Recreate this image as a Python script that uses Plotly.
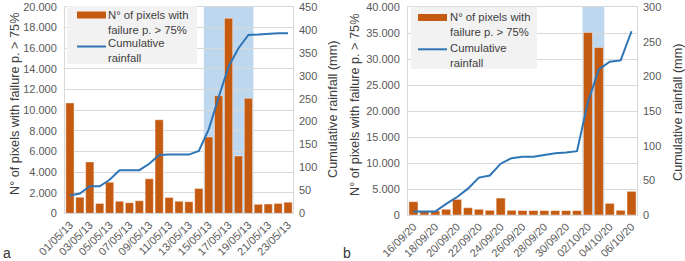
import plotly.graph_objects as go

# ---------------- data ----------------
dates_a = ["01/05/13", "02/05/13", "03/05/13", "04/05/13", "05/05/13", "06/05/13",
           "07/05/13", "08/05/13", "09/05/13", "10/05/13", "11/05/13", "12/05/13",
           "13/05/13", "14/05/13", "15/05/13", "16/05/13", "17/05/13", "18/05/13",
           "19/05/13", "20/05/13", "21/05/13", "22/05/13", "23/05/13"]
pixels_a = [10700, 1550, 4980, 960, 3020, 1160, 1030, 1220, 3340, 9070, 1540, 1170,
            1120, 2410, 7400, 11400, 18900, 5560, 11150, 870, 900, 960, 1080]
rain_a = [39, 43, 59, 59, 73, 94, 94, 94, 108, 127, 128, 128,
          128, 136, 183, 253, 320, 360, 389, 390, 392, 393, 393]
ticks_a = dates_a[::2]

dates_b = ["16/09/20", "17/09/20", "18/09/20", "19/09/20", "20/09/20", "21/09/20",
           "22/09/20", "23/09/20", "24/09/20", "25/09/20", "26/09/20", "27/09/20",
           "28/09/20", "29/09/20", "30/09/20", "01/10/20", "02/10/20", "03/10/20",
           "04/10/20", "05/10/20", "06/10/20"]
pixels_b = [2560, 780, 780, 1100, 3000, 1400, 1100, 900, 3250, 900, 850, 850,
            850, 850, 850, 850, 35100, 32200, 2240, 900, 4550]
rain_b = [5, 5, 5, 16, 26, 38, 54, 57, 74, 82, 84, 84,
          87, 89, 90, 92, 163, 210, 221, 223, 265]
ticks_b = dates_b[::2]

bar_name = "N° of pixels with<br>failure p. > 75%"
line_name = "Cumulative<br>rainfall"

# ---------------- style ----------------
W, H = 685, 261
BAR = "#C55A11"
LINE = "#2E75B6"
SHADE = "#BDD7EE"
GRID = "#D9D9D9"
TICKC = "#595959"
TITLEC = "#404040"
LEGBG = "#F2F2F2"
FONT = "Liberation Sans, Arial, sans-serif"

fig = go.Figure()

fig.add_trace(go.Bar(x=dates_a, y=pixels_a, name=bar_name, marker_color=BAR,
                     marker_line=dict(color="rgba(255,255,255,0.7)", width=0.6),
                     xaxis="x", yaxis="y"))
fig.add_trace(go.Scatter(x=dates_a, y=rain_a, name=line_name, mode="lines",
                         line=dict(color=LINE, width=2),
                         xaxis="x", yaxis="y2"))
fig.add_trace(go.Bar(x=dates_b, y=pixels_b, name=bar_name, marker_color=BAR,
                     marker_line=dict(color="rgba(255,255,255,0.7)", width=0.6),
                     xaxis="x2", yaxis="y3"))
fig.add_trace(go.Scatter(x=dates_b, y=rain_b, name=line_name, mode="lines",
                         line=dict(color=LINE, width=2),
                         xaxis="x2", yaxis="y4"))

xa = dict(type="category", showgrid=False, showline=True, linecolor=GRID, mirror=True,
          ticks="", tickangle=-45, tickfont=dict(size=11, color=TICKC), automargin=False)
ya = dict(showgrid=True, gridcolor=GRID, gridwidth=1, showline=True, linecolor=GRID,
          mirror=True, ticks="", tickfont=dict(size=11, color=TICKC), zeroline=False,
          tickformat=",d", ticklabelstandoff=5, automargin=False)
y2a = dict(showgrid=False, zeroline=False, ticks="", side="right",
           tickfont=dict(size=11, color=TICKC), ticklabelstandoff=5, automargin=False)

ydomA = [1 - 213.3 / H, 1 - 7 / H]
ydomB = [1 - 215 / H, 1 - 7 / H]

fig.update_layout(
    width=W, height=H,
    margin=dict(l=0, r=0, t=0, b=0, autoexpand=False),
    paper_bgcolor="white", plot_bgcolor="white",
    font=dict(family=FONT, color=TICKC),
    separators=",.",
    bargap=0.17,
    showlegend=False,
    xaxis=dict(xa, domain=[65 / W, 293 / W], anchor="y",
               tickvals=ticks_a, range=[-0.5, len(dates_a) - 0.5]),
    yaxis=dict(ya, domain=ydomA, anchor="x", range=[0, 20000], dtick=2000),
    yaxis2=dict(y2a, overlaying="y", anchor="x", range=[0, 450], dtick=50),
    xaxis2=dict(xa, domain=[408 / W, 637 / W], anchor="y3",
                tickvals=ticks_b, range=[-0.5, len(dates_b) - 0.5]),
    yaxis3=dict(ya, domain=ydomB, anchor="x2", range=[0, 40000], dtick=5000),
    yaxis4=dict(y2a, overlaying="y3", anchor="x2", range=[0, 300], dtick=50),
)

# shaded event periods
fig.add_shape(type="rect", xref="x", yref="y domain", x0=13.5, x1=18.5, y0=0, y1=1,
              fillcolor=SHADE, line_width=0, layer="below")
fig.add_shape(type="rect", xref="x2", yref="y3 domain", x0=15.5, x1=17.5, y0=0, y1=1,
              fillcolor=SHADE, line_width=0, layer="below")

def px(x):
    return x / W

def py(y):
    return 1 - y / H

def ann(text, xpx, ypx, angle=-90, size=12.7, color=TITLEC, xanchor="center", align="center"):
    fig.add_annotation(text=text, x=px(xpx), y=py(ypx), xref="paper", yref="paper",
                       showarrow=False, textangle=angle, xanchor=xanchor, yanchor="middle",
                       align=align, font=dict(size=size, color=color, family=FONT))

# legends (box, symbols, labels)
def legend_box(x0, x1, y0, y1, sym_x0, sym_x1, text_x, bar_y, line_y, t1_y, t2_y):
    fig.add_shape(type="rect", xref="paper", yref="paper", x0=px(x0), x1=px(x1),
                  y0=py(y1), y1=py(y0), fillcolor=LEGBG, line_width=0, layer="above")
    fig.add_shape(type="rect", xref="paper", yref="paper", x0=px(sym_x0), x1=px(sym_x1),
                  y0=py(bar_y + 3.5), y1=py(bar_y - 3.5), fillcolor=BAR, line_width=0,
                  layer="above")
    fig.add_shape(type="line", xref="paper", yref="paper", x0=px(sym_x0), x1=px(sym_x1),
                  y0=py(line_y), y1=py(line_y), line=dict(color=LINE, width=2),
                  layer="above")
    ann(bar_name, text_x, t1_y, angle=0, size=11.3, xanchor="left", align="left")
    ann(line_name, text_x, t2_y, angle=0, size=11.3, xanchor="left", align="left")

legend_box(67, 197, 6, 64, 77, 106, 105.5, 15, 46.5, 23, 51)
legend_box(411, 537, 6.7, 69, 418, 447, 447.5, 17.5, 49.3, 24.5, 55.5)

# axis titles and panel letters
ann("N° of pixels with failure p. > 75%", 15, 104)
ann("Cumulative rainfall (mm)", 333, 110)
ann("N° of pixels with failure p. > 75%", 355, 105)
ann("Cumulative rainfall (mm)", 678, 113)
ann("a", 7, 253, angle=0, size=14, color="#333333")
ann("b", 347, 253, angle=0, size=14, color="#333333")

fig.write_html("out.html", config={"displayModeBar": False},
               post_script="document.body.style.margin='0';document.body.style.overflow='hidden';")
